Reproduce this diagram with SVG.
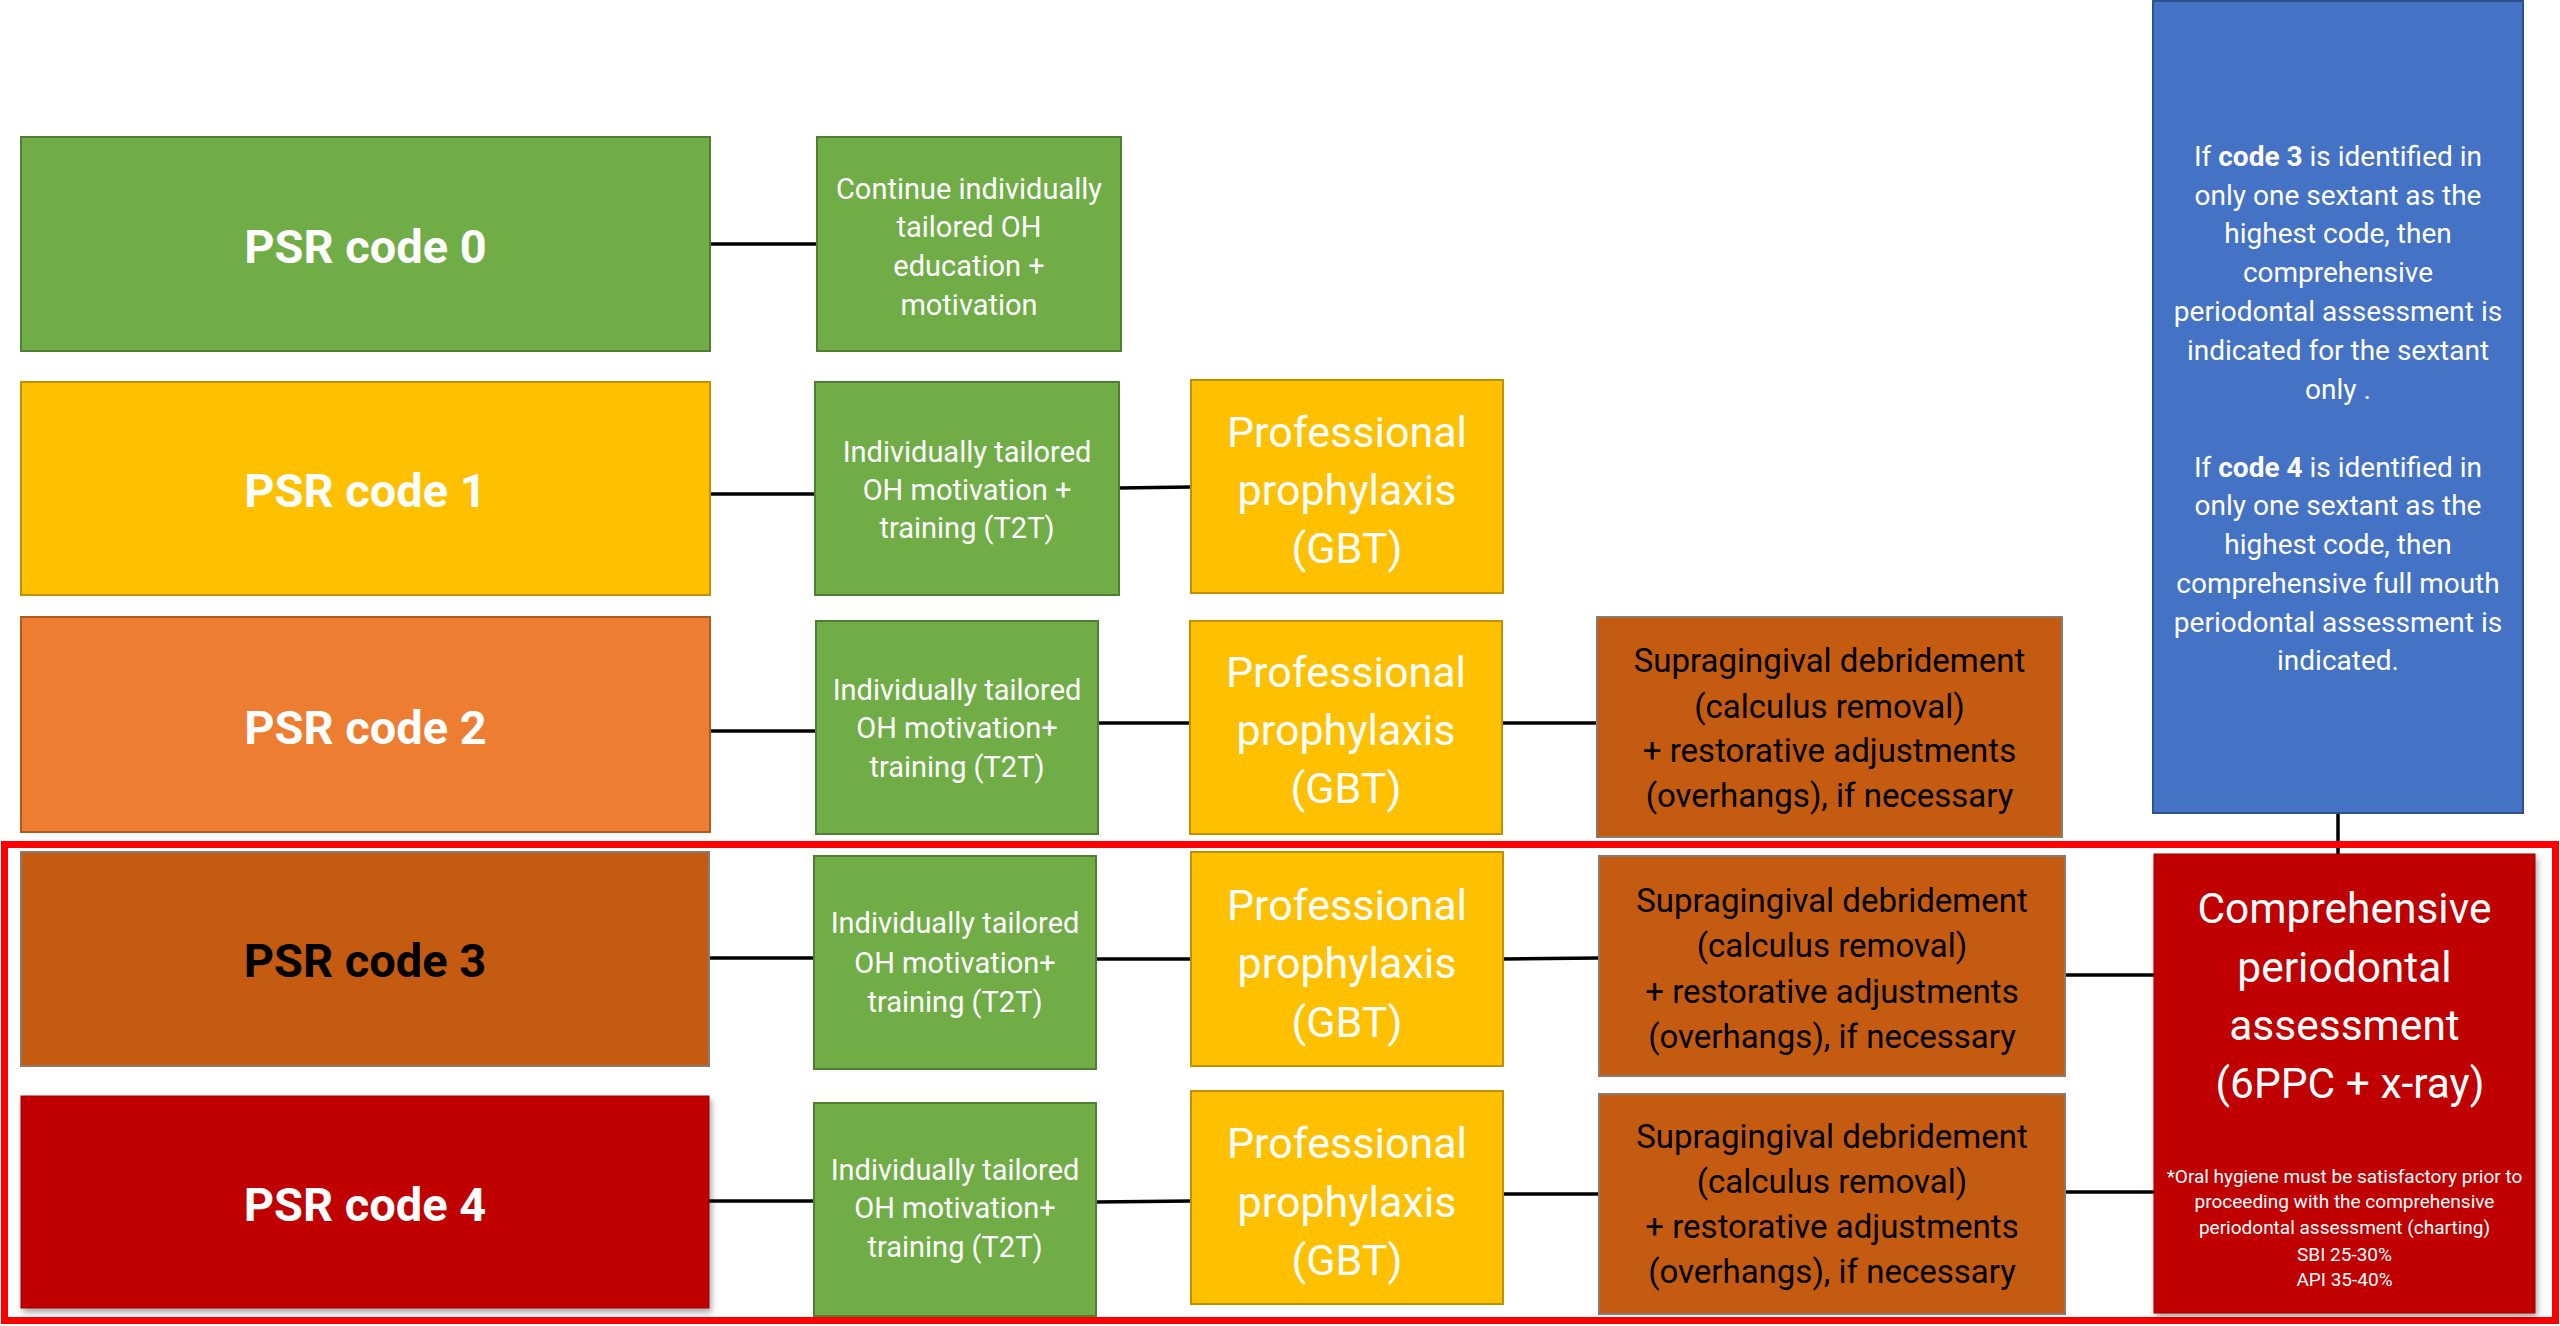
<svg xmlns="http://www.w3.org/2000/svg" width="2560" height="1326" viewBox="0 0 2560 1326">
<defs>
<style>
.t{font-family:Roboto,"Liberation Sans",sans-serif;text-anchor:middle}
.psr{font-size:47px;font-weight:700;fill:#fff}
.oh{font-size:29px;fill:#fff}
.gbt{font-size:43px;fill:#fff}
.sup{font-size:33px;fill:#000}
.blue{font-size:28px;fill:#fff}
.big{font-size:42.5px;fill:#fff}
.small{font-size:19px;fill:#fff}
.g{fill:#70AD47;stroke:#507E32;stroke-width:2}
.y{fill:#FFC000;stroke:#BF9000;stroke-width:2}
.o{fill:#ED7D31;stroke:#AE5A21;stroke-width:2}
.do{fill:#C55A11;stroke:#8C7A6E;stroke-width:2}
.r{fill:#C00000;stroke:#A00000;stroke-width:1}
.b{fill:#4472C4;stroke:#2F528F;stroke-width:2}
.c{stroke:#000;stroke-width:3.5;fill:none}
</style>
<filter id="sh" x="-5%" y="-5%" width="112%" height="115%">
<feDropShadow dx="2" dy="4" stdDeviation="3" flood-color="#000" flood-opacity="0.35"/>
</filter>
</defs>
<rect width="2560" height="1326" fill="#fff"/>

<g id="connectors">
<line class="c" x1="710" y1="244" x2="817" y2="244"/>
<line class="c" x1="710" y1="494" x2="815" y2="494"/>
<line class="c" x1="1119" y1="488" x2="1191" y2="487"/>
<line class="c" x1="710" y1="731" x2="816" y2="731"/>
<line class="c" x1="1098" y1="723" x2="1190" y2="723"/>
<line class="c" x1="1502" y1="723" x2="1597" y2="723"/>
<line class="c" x1="709" y1="958" x2="814" y2="958"/>
<line class="c" x1="1096" y1="959" x2="1191" y2="959"/>
<line class="c" x1="1503" y1="959" x2="1599" y2="958"/>
<line class="c" x1="2065" y1="975" x2="2154" y2="975"/>
<line class="c" x1="709" y1="1201" x2="814" y2="1201"/>
<line class="c" x1="1096" y1="1202" x2="1191" y2="1201"/>
<line class="c" x1="1503" y1="1194" x2="1599" y2="1194"/>
<line class="c" x1="2065" y1="1192" x2="2154" y2="1192"/>
<line class="c" x1="2338" y1="813" x2="2338" y2="854"/>
</g>

<g id="highlight">
<rect x="4.5" y="844.5" width="2551" height="476" fill="none" stroke="#FF0000" stroke-width="7"/>
</g>

<g id="psr0">
<rect class="g" x="21" y="137" width="689" height="214"/>
<text class="t psr" x="365.5" y="263">PSR code 0</text>
</g>
<g id="oh0">
<rect class="g" x="817" y="137" width="304" height="214"/>
<text class="t oh" x="969" y="199">Continue individually</text>
<text class="t oh" x="969" y="237">tailored OH</text>
<text class="t oh" x="969" y="276">education +</text>
<text class="t oh" x="969" y="315">motivation</text>
</g>

<g id="psr1">
<rect class="y" x="21" y="382" width="689" height="213"/>
<text class="t psr" x="365.5" y="507">PSR code 1</text>
</g>
<g id="oh1">
<rect class="g" x="815" y="382" width="304" height="213"/>
<text class="t oh" x="967" y="462">Individually tailored</text>
<text class="t oh" x="967" y="500">OH motivation +</text>
<text class="t oh" x="967" y="538">training (T2T)</text>
</g>
<g id="gbt1">
<rect class="y" x="1191" y="380" width="312" height="213"/>
<text class="t gbt" x="1347" y="447">Professional</text>
<text class="t gbt" x="1347" y="505">prophylaxis</text>
<text class="t gbt" x="1347" y="563">(GBT)</text>
</g>

<g id="psr2">
<rect class="o" x="21" y="617" width="689" height="215"/>
<text class="t psr" x="365.5" y="744">PSR code 2</text>
</g>
<g id="oh2">
<rect class="g" x="816" y="621" width="282" height="213"/>
<text class="t oh" x="957" y="700">Individually tailored</text>
<text class="t oh" x="957" y="738">OH motivation+</text>
<text class="t oh" x="957" y="777">training  (T2T)</text>
</g>
<g id="gbt2">
<rect class="y" x="1190" y="621" width="312" height="213"/>
<text class="t gbt" x="1346" y="687">Professional</text>
<text class="t gbt" x="1346" y="745">prophylaxis</text>
<text class="t gbt" x="1346" y="803">(GBT)</text>
</g>
<g id="sup2">
<rect class="do" x="1597" y="617" width="465" height="220"/>
<text class="t sup" x="1829.5" y="672">Supragingival debridement</text>
<text class="t sup" x="1829.5" y="718">(calculus removal)</text>
<text class="t sup" x="1829.5" y="762">+ restorative adjustments</text>
<text class="t sup" x="1829.5" y="807">(overhangs), if necessary</text>
</g>

<g id="psr3">
<rect class="do" x="21" y="852" width="688" height="214"/>
<text class="t psr" x="365" y="977" style="fill:#000">PSR code 3</text>
</g>
<g id="oh3">
<rect class="g" x="814" y="856" width="282" height="213"/>
<text class="t oh" x="955" y="933">Individually tailored</text>
<text class="t oh" x="955" y="973">OH motivation+</text>
<text class="t oh" x="955" y="1012">training  (T2T)</text>
</g>
<g id="gbt3">
<rect class="y" x="1191" y="852" width="312" height="214"/>
<text class="t gbt" x="1347" y="920">Professional</text>
<text class="t gbt" x="1347" y="978">prophylaxis</text>
<text class="t gbt" x="1347" y="1037">(GBT)</text>
</g>
<g id="sup3">
<rect class="do" x="1599" y="856" width="466" height="220"/>
<text class="t sup" x="1832" y="912">Supragingival debridement</text>
<text class="t sup" x="1832" y="957">(calculus removal)</text>
<text class="t sup" x="1832" y="1003">+ restorative adjustments</text>
<text class="t sup" x="1832" y="1048">(overhangs), if necessary</text>
</g>

<g id="psr4">
<rect class="r" x="21" y="1096" width="688" height="212" filter="url(#sh)"/>
<text class="t psr" x="365" y="1221">PSR code 4</text>
</g>
<g id="oh4">
<rect class="g" x="814" y="1103" width="282" height="213"/>
<text class="t oh" x="955" y="1180">Individually tailored</text>
<text class="t oh" x="955" y="1218">OH motivation+</text>
<text class="t oh" x="955" y="1257">training  (T2T)</text>
</g>
<g id="gbt4">
<rect class="y" x="1191" y="1091" width="312" height="213"/>
<text class="t gbt" x="1347" y="1158">Professional</text>
<text class="t gbt" x="1347" y="1217">prophylaxis</text>
<text class="t gbt" x="1347" y="1275">(GBT)</text>
</g>
<g id="sup4">
<rect class="do" x="1599" y="1094" width="466" height="220"/>
<text class="t sup" x="1832" y="1148">Supragingival debridement</text>
<text class="t sup" x="1832" y="1193">(calculus removal)</text>
<text class="t sup" x="1832" y="1238">+ restorative adjustments</text>
<text class="t sup" x="1832" y="1283">(overhangs), if necessary</text>
</g>

<g id="comprehensive">
<rect class="r" x="2154" y="854" width="381" height="459" filter="url(#sh)"/>
<text class="t big" x="2344.5" y="923">Comprehensive</text>
<text class="t big" x="2344.5" y="982">periodontal</text>
<text class="t big" x="2344.5" y="1040">assessment</text>
<text class="t big" x="2350" y="1098">(6PPC + x-ray)</text>
<text class="t small" x="2344.5" y="1183">*Oral hygiene must be satisfactory prior to</text>
<text class="t small" x="2344.5" y="1208">proceeding with the comprehensive</text>
<text class="t small" x="2344.5" y="1234">periodontal assessment (charting)</text>
<text class="t small" x="2344.5" y="1261">SBI 25-30%</text>
<text class="t small" x="2344.5" y="1286">API 35-40%</text>
</g>

<g id="note">
<rect class="b" x="2153" y="1" width="370" height="812"/>
<text class="t blue" x="2338" y="166">If <tspan font-weight="700">code 3</tspan> is identified in</text>
<text class="t blue" x="2338" y="205">only one sextant as the</text>
<text class="t blue" x="2338" y="243">highest code, then</text>
<text class="t blue" x="2338" y="282">comprehensive</text>
<text class="t blue" x="2338" y="321">periodontal assessment is</text>
<text class="t blue" x="2338" y="360">indicated for the sextant</text>
<text class="t blue" x="2338" y="399">only .</text>
<text class="t blue" x="2338" y="477">If <tspan font-weight="700">code 4</tspan> is identified in</text>
<text class="t blue" x="2338" y="515">only one sextant as the</text>
<text class="t blue" x="2338" y="554">highest code, then</text>
<text class="t blue" x="2338" y="593">comprehensive full mouth</text>
<text class="t blue" x="2338" y="632">periodontal assessment is</text>
<text class="t blue" x="2338" y="670">indicated.</text>
</g>
</svg>
